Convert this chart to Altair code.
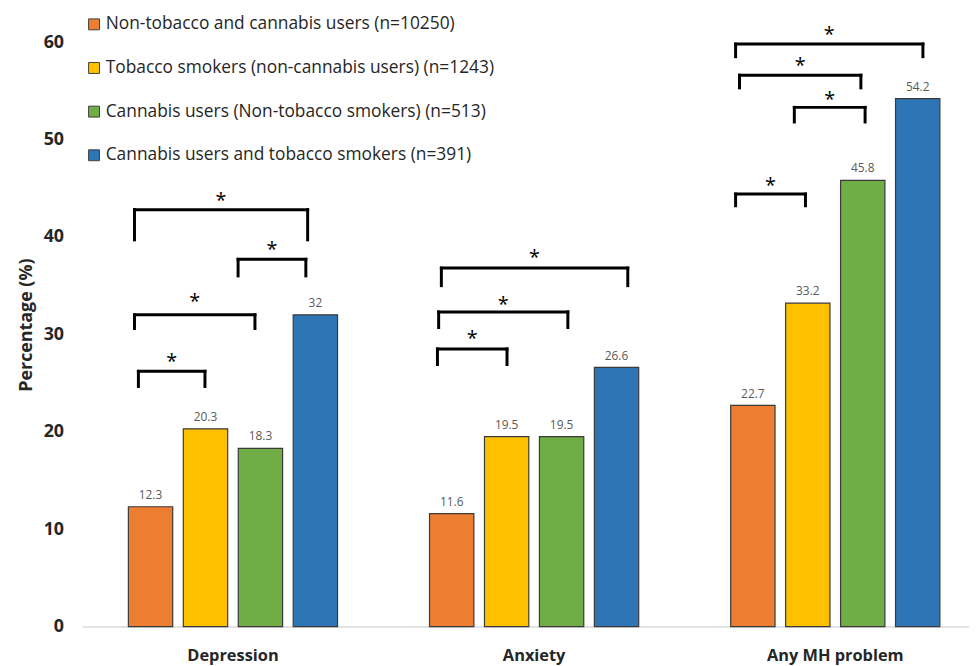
import altair as alt
import pandas as pd

groups = ["Depression", "Anxiety", "Any MH problem"]
series = [
    "Non-tobacco and cannabis users (n=10250)",
    "Tobacco smokers (non-cannabis users) (n=1243)",
    "Cannabis users (Non-tobacco smokers) (n=513)",
    "Cannabis users and tobacco smokers (n=391)",
]
colors = ["#ED7D31", "#FFC000", "#70AD47", "#2E75B6"]

depression = [12.3, 20.3, 18.3, 32]
anxiety = [11.6, 19.5, 19.5, 26.6]
any_mh = [22.7, 33.2, 45.8, 54.2]
value_text = [["12.3", "20.3", "18.3", "32"],
              ["11.6", "19.5", "19.5", "26.6"],
              ["22.7", "33.2", "45.8", "54.2"]]
y_ticks = [0, 10, 20, 30, 40, 50, 60]

# significance brackets (group index, left/right end as fraction of group band, heights)
br_group = [0, 0, 0, 0, 1, 1, 1, 2, 2, 2, 2]
br_left = [0.186, 0.173, 0.517, 0.173, 0.179, 0.183, 0.192, 0.169, 0.364, 0.182, 0.169]
br_right = [0.407, 0.573, 0.742, 0.748, 0.410, 0.612, 0.811, 0.401, 0.599, 0.585, 0.791]
br_top = [26.2, 32.0, 37.7, 42.8, 28.5, 32.3, 36.8, 44.4, 53.3, 56.6, 59.8]
br_bottom = [24.65, 30.6, 36.0, 39.7, 26.9, 30.7, 35.0, 43.2, 51.8, 55.3, 58.5]
star_y = [27.7, 33.8, 39.2, 44.2, 30.0, 33.5, 38.3, 45.7, 54.6, 58.1, 61.2]

FONT = "Open Sans"
TXT = "#262626"

rows = []
for gi, vals in enumerate([depression, anxiety, any_mh]):
    for si, v in enumerate(vals):
        rows.append({"group": groups[gi], "series": series[si], "value": v,
                     "label": value_text[gi][si]})
df = pd.DataFrame(rows)

hrows, vrows, srows = [], [], []
for g, l, r, t, b, s in zip(br_group, br_left, br_right, br_top, br_bottom, star_y):
    hrows.append({"x1": g + l, "x2": g + r, "top": t})
    vrows.append({"x1": g + l, "bottom": b, "top": t})
    vrows.append({"x1": g + r, "bottom": b, "top": t})
    srows.append({"x1": g + (l + r) / 2, "sy": s})
hdf = pd.DataFrame(hrows)
vdf = pd.DataFrame(vrows)
sdf = pd.DataFrame(srows)

YT = "Percentage (%)"
XRANGE = [0, 911]
yscale = alt.Scale(domain=[0, 62], nice=False, zero=True)
yaxis = alt.Axis(values=y_ticks, grid=False, ticks=False, domain=False,
                 labelFontSize=18, labelFontWeight="bold", labelColor=TXT, labelFont=FONT,
                 labelPadding=19, titleFontSize=18, titleFontWeight="bold",
                 titleColor=TXT, titleFont=FONT, titlePadding=8)
xq = alt.Scale(domain=[0, 3], range=XRANGE, nice=False, zero=False)
xband = alt.Scale(paddingInner=0, paddingOuter=0, range=XRANGE)

x_off = alt.XOffset("series:N", sort=series,
                    scale=alt.Scale(paddingInner=0.193, paddingOuter=0.837))

bars = alt.Chart(df).mark_bar(stroke="#3a3a3a", strokeWidth=1.2).encode(
    x=alt.X("group:N", sort=groups, title=None, scale=xband,
            axis=alt.Axis(labelAngle=0, ticks=False, domainColor="#d9d9d9",
                          domainWidth=1.5, labelFontSize=16.5, labelFontWeight="bold",
                          labelColor=TXT, labelFont=FONT, labelPadding=21)),
    xOffset=x_off,
    y=alt.Y("value:Q", title=YT, scale=yscale, axis=yaxis),
    color=alt.Color("series:N", sort=series,
                    scale=alt.Scale(domain=series, range=colors),
                    legend=alt.Legend(title=None, orient="none", legendX=3, legendY=-7,
                                      symbolType="square", symbolSize=121,
                                      symbolStrokeColor="#404040", symbolStrokeWidth=1,
                                      symbolOpacity=1, labelFontSize=17.5, labelFont=FONT,
                                      labelColor=TXT, rowPadding=25, labelLimit=600,
                                      labelOffset=3)),
)

labels = alt.Chart(df).mark_text(dy=-12, fontSize=12, color="#595959", font=FONT).encode(
    x=alt.X("group:N", sort=groups, title=None, scale=xband, axis=None),
    xOffset=x_off,
    y=alt.Y("value:Q", title=YT, scale=yscale, axis=yaxis),
    text="label:N",
)

hrule = alt.Chart(hdf).mark_rule(color="black", strokeWidth=3, strokeCap="square").encode(
    x=alt.X("x1:Q", scale=xq, axis=None),
    x2="x2:Q",
    y=alt.Y("top:Q", title=YT, scale=yscale, axis=yaxis),
)
vrule = alt.Chart(vdf).mark_rule(color="black", strokeWidth=3, strokeCap="square").encode(
    x=alt.X("x1:Q", scale=xq, axis=None),
    y=alt.Y("bottom:Q", title=YT, scale=yscale, axis=yaxis),
    y2="top:Q",
)
stars = alt.Chart(sdf).mark_text(text="*", fontSize=20, color="black", font=FONT,
                                 baseline="middle", dy=5).encode(
    x=alt.X("x1:Q", scale=xq, axis=None),
    y=alt.Y("sy:Q", title=YT, scale=yscale, axis=yaxis),
)

chart = alt.layer(bars, labels, hrule, vrule, stars).resolve_scale(
    x="independent"
).properties(
    width=886, height=609,
    autosize=alt.AutoSizeParams(type="none"),
    padding={"left": 75, "top": 12, "right": 8, "bottom": 36},
).configure_view(stroke=None)

chart.save("out.html", embed_options={"renderer": "svg", "actions": False})
